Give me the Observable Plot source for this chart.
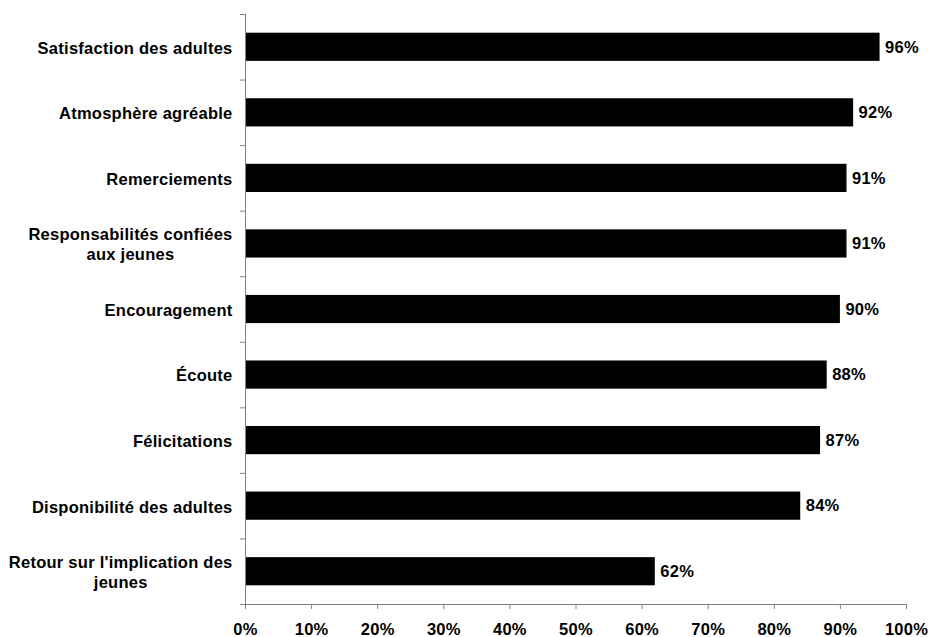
<!DOCTYPE html>
<html>
<head>
<meta charset="utf-8">
<script src="https://cdn.jsdelivr.net/npm/d3@7"></script>
<script src="https://cdn.jsdelivr.net/npm/@observablehq/plot@0.6"></script>
<style>
  html, body { margin: 0; padding: 0; background: #fff; }
  svg { display: block; }
  svg text { letter-spacing: 0.25px; }
</style>
</head>
<body>
<div id="chart"></div>
<script>
const categories = [
  "Satisfaction des adultes",
  "Atmosphère agréable",
  "Remerciements",
  "Responsabilités confiées\naux jeunes",
  "Encouragement",
  "Écoute",
  "Félicitations",
  "Disponibilité des adultes",
  "Retour sur l'implication des\njeunes"
];
const values = [96, 92, 91, 91, 90, 88, 87, 84, 62];
const xTicks = [0, 10, 20, 30, 40, 50, 60, 70, 80, 90, 100];

const data = categories.map((c, i) => ({cat: c, value: values[i]}));

const W = 930, H = 637;
const mL = 245, mR = 24, mT = 14, mB = 33;
const step = (H - mT - mB) / categories.length;
const pxPerUnit = (W - mL - mR) / 100;
const tickLen = 5 / pxPerUnit;
const FS = 16.5;
const LS = 0.25;
const FAMILY = "'Liberation Sans', Arial, Helvetica, sans-serif";
const FONT = `bold ${FS}px ${FAMILY}`;

// measure widest line of each label for centered multi-line alignment
const ctx = document.createElement("canvas").getContext("2d");
ctx.font = FONT;
const maxW = c => Math.max(...c.split("\n").map(s => ctx.measureText(s).width + LS * s.length));

const gray = "#808080";

const labelMarks = categories.map(c =>
  Plot.text([c], {x: 0, y: d => d, text: d => d, textAnchor: "middle",
    dx: -(13 + maxW(c) / 2), lineHeight: 1.2, fontSize: FS, fontWeight: "bold", fill: "#000"})
);

const chart = Plot.plot({
  width: W,
  height: H,
  marginLeft: mL,
  marginRight: mR,
  marginTop: mT,
  marginBottom: mB,
  style: {fontFamily: FAMILY, fontSize: FS + "px", fontWeight: "bold", color: "#000", background: "#fff"},
  x: {domain: [0, 100]},
  y: {domain: categories, paddingInner: 0.57, paddingOuter: 0.285, round: false},
  marks: [
    Plot.barX(data, {x: "value", y: "cat", fill: "#000"}),
    Plot.frame({anchor: "left", stroke: gray}),
    Plot.frame({anchor: "bottom", stroke: gray}),
    // ticks at band boundaries on the category axis
    Plot.ruleY(categories, {y: d => d, x1: -tickLen, x2: 0, dy: -step / 2, stroke: gray}),
    Plot.ruleY([categories[categories.length - 1]], {y: d => d, x1: -tickLen, x2: 0, dy: step / 2, stroke: gray}),
    Plot.axisX({ticks: xTicks, tickSize: 5, tickPadding: 14, label: null, tickFormat: d => d + "%", stroke: gray, fill: "#000", fontWeight: "bold", fontSize: FS}),
    Plot.axisY({ticks: [], label: null}),
    ...labelMarks,
    Plot.text(data, {x: "value", y: "cat", text: d => d.value + "%", textAnchor: "start", dx: 5, fontSize: FS, fontWeight: "bold", fill: "#000"})
  ]
});
document.getElementById("chart").appendChild(chart);
</script>
</body>
</html>
